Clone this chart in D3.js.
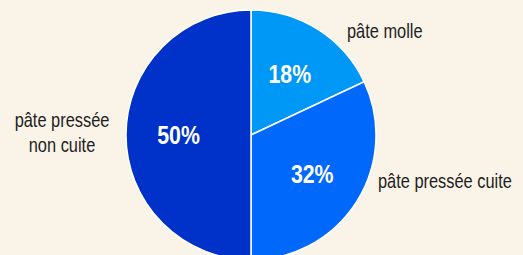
<!DOCTYPE html>
<html><head><meta charset="utf-8">
<script src="https://cdn.jsdelivr.net/npm/d3@7"></script>
<style>
html,body{margin:0;padding:0;background:#f9f3e8;}
svg{display:block;}
text{font-family:"Liberation Sans","Arial",sans-serif;}
</style></head>
<body>
<svg id="chart" width="523" height="255"></svg>
<script>
const categories = ["pâte molle", "pâte pressée cuite", "pâte pressée non cuite"];
const values = [18, 32, 50];
const valueLabels = ["18%", "32%", "50%"];
const colors = ["#0098f6", "#0068fb", "#0032c9"];

const W = 523, H = 255;
const cx = 251, cy = 135, R = 125;
const NARROW = 0.82;
const svg = d3.select("#chart");
svg.append("rect").attr("width", W).attr("height", H).attr("fill", "#f9f3e8");

const pie = d3.pie().sort(null).value(d => d)(values);
const arc = d3.arc().innerRadius(0).outerRadius(R);
const labelArc = d3.arc().innerRadius(R * 0.58).outerRadius(R * 0.58);
const g = svg.append("g").attr("transform", `translate(${cx},${cy})`);

g.selectAll("path").data(pie).join("path")
  .attr("d", arc)
  .attr("fill", (d, i) => colors[i])
  .attr("stroke", "#ffffff")
  .attr("stroke-width", 1.5);

g.selectAll("g.pct").data(pie).join("g")
  .attr("class", "pct")
  .attr("transform", d => { const c = labelArc.centroid(d); return `translate(${c[0]},${c[1]}) scale(${NARROW},1)`; })
  .append("text")
  .attr("text-anchor", "middle")
  .attr("dy", "0.36em")
  .attr("fill", "#ffffff")
  .attr("font-weight", "bold")
  .attr("font-size", 26)
  .text((d, i) => valueLabels[i]);

// outer label layout, relative to pie centre
const outer = [
  {x: 96, y: -97, anchor: "start", split: false},
  {x: 127, y: 53, anchor: "start", split: false},
  {x: -189, y: -8, anchor: "middle", split: true}
];
outer.forEach((o, i) => {
  const lg = g.append("g").attr("transform", `translate(${o.x},${o.y}) scale(${NARROW},1)`);
  const t = lg.append("text")
    .attr("text-anchor", o.anchor)
    .attr("fill", "#1e1e1e")
    .attr("font-size", 20);
  const lines = o.split ? ["pâte pressée", "non cuite"] : [categories[i]];
  lines.forEach((l, j) => t.append("tspan").attr("x", 0).attr("dy", j === 0 ? 0 : 25).text(l));
});
</script>
</body></html>
